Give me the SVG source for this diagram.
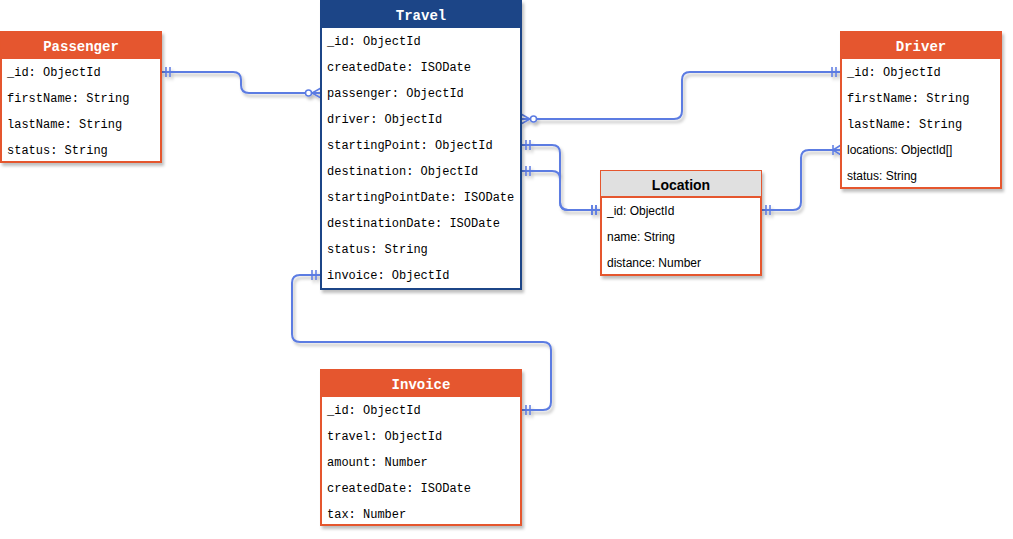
<svg xmlns="http://www.w3.org/2000/svg" width="1013" height="539" viewBox="0 0 1013 539">
<style>
.bg{fill:#ffffff}
.box{fill:#ffffff;stroke-width:2}
.or{stroke:#e5562f}
.bl{stroke:#1c4587}
.hdo{fill:#e5562f}
.hdb{fill:#1c4587}
.hdg{fill:#e0e0e0}
.ht{font-family:"Liberation Mono",monospace;font-weight:bold;font-size:14px;fill:#ffffff;text-anchor:middle}
.hts{font-family:"Liberation Sans",Arial,sans-serif;font-weight:bold;font-size:14px;fill:#000000;text-anchor:middle}
.f{font-family:"Liberation Mono",monospace;font-size:12px;fill:#000000}
.fs{font-family:"Liberation Sans",Arial,sans-serif;font-size:12px;fill:#000000}
.c{fill:none;stroke:#5b7be2;stroke-width:2}
.m{fill:none;stroke:#5b7be2;stroke-width:1.5}
.mc{fill:#ffffff;stroke:#5b7be2;stroke-width:1.5}
</style>
<defs>
<filter id="sh" x="-10%" y="-10%" width="130%" height="130%">
<feDropShadow dx="2" dy="3" stdDeviation="1.5" flood-color="#000000" flood-opacity="0.25"/>
</filter>
<marker id="one" markerUnits="userSpaceOnUse" viewBox="-14 -8 16 16" refX="0" refY="0" markerWidth="16" markerHeight="16" orient="auto-start-reverse">
<path class="m" d="M-5,-5V5M-9,-5V5"/>
</marker>
<marker id="zmany" markerUnits="userSpaceOnUse" viewBox="-18 -8 20 16" refX="0" refY="0" markerWidth="20" markerHeight="16" orient="auto-start-reverse">
<path class="m" d="M0,-5L-9,0L0,5"/>
<circle class="mc" cx="-12.5" cy="0" r="3"/>
</marker>
<marker id="omany" markerUnits="userSpaceOnUse" viewBox="-14 -8 16 16" refX="0" refY="0" markerWidth="16" markerHeight="16" orient="auto-start-reverse">
<path class="m" d="M0,-5L-8,0L0,5M-8,-5V5"/>
</marker>
</defs>
<rect class="bg" x="0" y="0" width="1013" height="539"/>

<g id="connectors" filter="url(#sh)">
<path class="c" d="M161,72H233Q241,72 241,80V85Q241,93 249,93H321" marker-start="url(#one)" marker-end="url(#zmany)"/>
<path class="c" d="M841,72H690Q682,72 682,80V111Q682,119 674,119H521" marker-start="url(#one)" marker-end="url(#zmany)"/>
<path class="c" d="M521,145H552Q560,145 560,153V202Q560,210 568,210H601" marker-start="url(#one)" marker-end="url(#one)"/>
<path class="c" d="M521,171H552Q560,171 560,179V202Q560,210 568,210H601" marker-start="url(#one)" marker-end="url(#one)"/>
<path class="c" d="M761,210H793Q801,210 801,202V158Q801,150 809,150H841" marker-start="url(#one)" marker-end="url(#omany)"/>
<path class="c" d="M321,275H300Q292,275 292,283V334Q292,342 300,342H543Q551,342 551,350V402Q551,410 543,410H521" marker-start="url(#one)" marker-end="url(#one)"/>
</g>

<g id="passenger">
<rect class="box or" x="1" y="32" width="160" height="130" filter="url(#sh)"/>
<rect class="hdo" x="1" y="32" width="160" height="27"/>
<text class="ht" x="81" y="51">Passenger</text>
<text class="f" x="7" y="76">_id: ObjectId</text>
<text class="f" x="7" y="102">firstName: String</text>
<text class="f" x="7" y="128">lastName: String</text>
<text class="f" x="7" y="154">status: String</text>
</g>

<g id="travel">
<rect class="box bl" x="321" y="1" width="200" height="288" filter="url(#sh)"/>
<rect class="hdb" x="321" y="1" width="200" height="27"/>
<text class="ht" x="421" y="20">Travel</text>
<text class="f" x="327" y="45">_id: ObjectId</text>
<text class="f" x="327" y="71">createdDate: ISODate</text>
<text class="f" x="327" y="97">passenger: ObjectId</text>
<text class="f" x="327" y="123">driver: ObjectId</text>
<text class="f" x="327" y="149">startingPoint: ObjectId</text>
<text class="f" x="327" y="175">destination: ObjectId</text>
<text class="f" x="327" y="201">startingPointDate: ISODate</text>
<text class="f" x="327" y="227">destinationDate: ISODate</text>
<text class="f" x="327" y="253">status: String</text>
<text class="f" x="327" y="279">invoice: ObjectId</text>
</g>

<g id="driver">
<rect class="box or" x="841" y="32" width="160" height="156" filter="url(#sh)"/>
<rect class="hdo" x="841" y="32" width="160" height="27"/>
<text class="ht" x="921" y="51">Driver</text>
<text class="f" x="847" y="76">_id: ObjectId</text>
<text class="f" x="847" y="102">firstName: String</text>
<text class="f" x="847" y="128">lastName: String</text>
<text class="fs" x="847" y="154">locations: ObjectId[]</text>
<text class="fs" x="847" y="180">status: String</text>
</g>

<g id="location">
<rect class="box or" x="601" y="171" width="160" height="104" filter="url(#sh)"/>
<rect class="hdg" x="601" y="171" width="160" height="26"/>
<line class="or" x1="601" y1="197" x2="761" y2="197" stroke-width="2"/>
<text class="hts" x="681" y="190">Location</text>
<text class="fs" x="607" y="215">_id: ObjectId</text>
<text class="fs" x="607" y="241">name: String</text>
<text class="fs" x="607" y="267">distance: Number</text>
</g>

<g id="invoice">
<rect class="box or" x="321" y="370" width="200" height="155" filter="url(#sh)"/>
<rect class="hdo" x="321" y="370" width="200" height="27"/>
<text class="ht" x="421" y="389">Invoice</text>
<text class="f" x="327" y="414">_id: ObjectId</text>
<text class="f" x="327" y="440">travel: ObjectId</text>
<text class="f" x="327" y="466">amount: Number</text>
<text class="f" x="327" y="492">createdDate: ISODate</text>
<text class="f" x="327" y="518">tax: Number</text>
</g>
</svg>
